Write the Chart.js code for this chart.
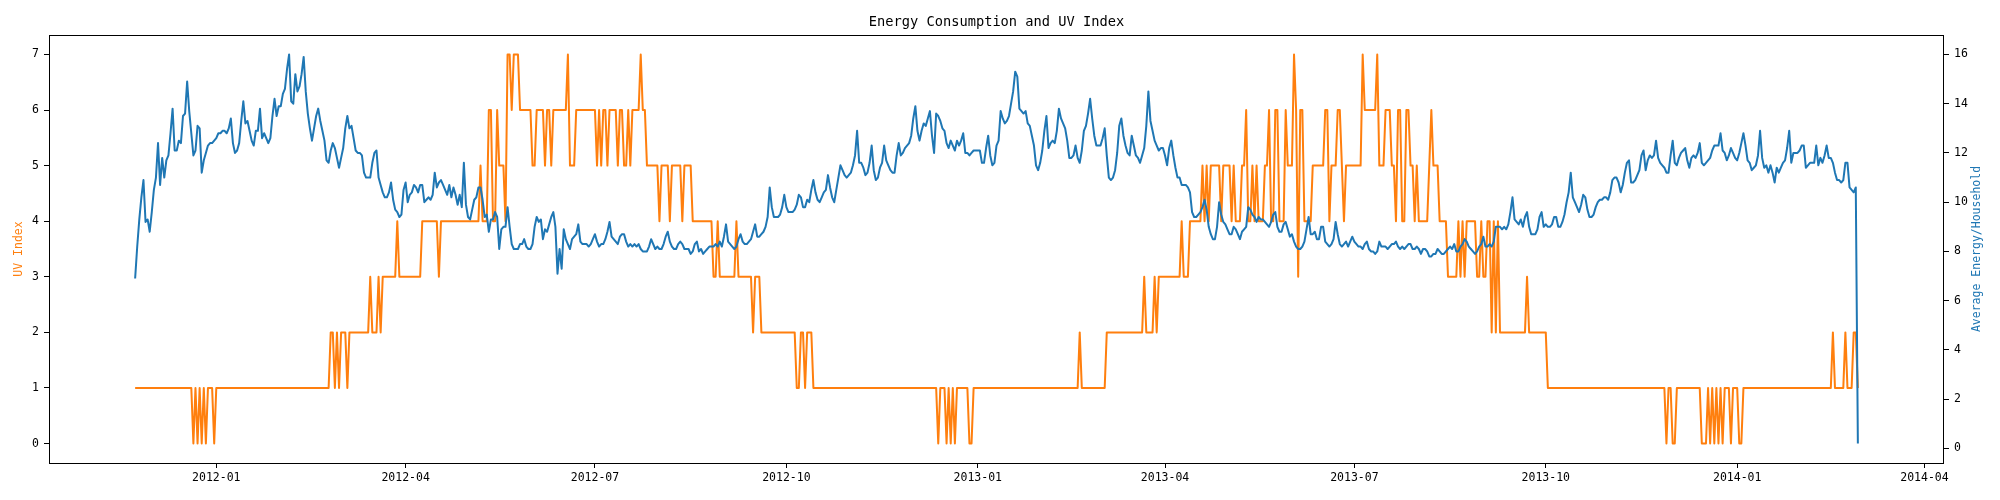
<!DOCTYPE html>
<html>
<head>
<meta charset="utf-8">
<title>Energy Consumption and UV Index</title>
<script src="https://cdn.jsdelivr.net/npm/chart.js@4.4.1/dist/chart.umd.min.js"></script>
<style>
  html, body { margin: 0; padding: 0; background: #fff; }
  #wrap { width: 2000px; height: 500px; }
</style>
</head>
<body>
<div id="wrap"><canvas id="chart" width="2000" height="500"></canvas></div>
<script>
// First day of the daily series (one value per day after that)
const startDate = '2011-11-23';

// Quarterly date ticks on the x axis
const tickLabels = ['2012-01', '2012-04', '2012-07', '2012-10', '2013-01', '2013-04', '2013-07', '2013-10', '2014-01', '2014-04'];
const uvTicks = [0, 1, 2, 3, 4, 5, 6, 7];
const energyTicks = [0, 2, 4, 6, 8, 10, 12, 14, 16];

// Daily UV index (left axis)
const uvIndex = [
  1,1,1,1,1,1,1,1,1,1, 1,1,1,1,1,1,1,1,1,1,
  1,1,1,1,1,1,1,1,0,1, 0,1,0,1,0,1,1,1,0,1,
  1,1,1,1,1,1,1,1,1,1, 1,1,1,1,1,1,1,1,1,1,
  1,1,1,1,1,1,1,1,1,1, 1,1,1,1,1,1,1,1,1,1,
  1,1,1,1,1,1,1,1,1,1, 1,1,1,1,2,2,1,2,1,2,
  2,2,1,2,2,2,2,2,2,2, 2,2,2,3,2,2,2,3,2,3,
  3,3,3,3,3,3,4,3,3,3, 3,3,3,3,3,3,3,3,4,4,
  4,4,4,4,4,4,3,4,4,4, 4,4,4,4,4,4,4,4,4,4,
  4,4,4,4,4,4,5,4,4,4, 6,6,4,4,6,5,5,5,4,7,
  7,6,7,7,7,6,6,6,6,6, 6,5,5,6,6,6,6,5,6,6,
  5,6,6,6,6,6,6,6,7,5, 5,5,6,6,6,6,6,6,6,6,
  6,6,5,6,5,6,6,5,6,6, 6,6,5,6,6,5,5,6,5,6,
  6,6,6,7,6,6,5,5,5,5, 5,5,4,5,5,5,5,4,5,5,
  5,5,5,4,5,5,5,5,4,4, 4,4,4,4,4,4,4,4,3,3,
  4,3,3,3,3,3,3,3,3,4, 3,3,3,3,3,3,3,2,3,3,
  3,2,2,2,2,2,2,2,2,2, 2,2,2,2,2,2,2,2,1,1,
  2,2,1,2,2,2,1,1,1,1, 1,1,1,1,1,1,1,1,1,1,
  1,1,1,1,1,1,1,1,1,1, 1,1,1,1,1,1,1,1,1,1,
  1,1,1,1,1,1,1,1,1,1, 1,1,1,1,1,1,1,1,1,1,
  1,1,1,1,1,1,0,1,1,1, 0,1,0,1,0,1,1,1,1,1,
  1,0,0,1,1,1,1,1,1,1, 1,1,1,1,1,1,1,1,1,1,
  1,1,1,1,1,1,1,1,1,1, 1,1,1,1,1,1,1,1,1,1,
  1,1,1,1,1,1,1,1,1,1, 1,1,1,1,2,1,1,1,1,1,
  1,1,1,1,1,1,1,2,2,2, 2,2,2,2,2,2,2,2,2,2,
  2,2,2,2,2,3,2,2,2,2, 3,2,3,3,3,3,3,3,3,3,
  3,3,3,4,3,3,3,4,4,4, 4,4,4,5,4,5,4,5,5,5,
  5,5,4,5,5,5,5,4,5,4, 4,4,5,5,6,4,4,5,4,5,
  4,4,4,5,5,6,4,4,6,6, 4,4,4,6,5,5,5,7,6,3,
  6,6,4,4,4,4,5,5,5,5, 5,5,6,6,4,5,5,5,6,6,
  5,4,5,5,5,5,5,5,5,5, 7,6,6,6,6,6,6,7,5,5,
  5,6,6,6,5,5,4,6,6,4, 4,6,6,5,5,4,5,4,4,4,
  4,4,5,6,5,5,5,4,4,4, 4,3,3,3,3,3,4,3,4,3,
  4,4,4,4,4,3,3,4,3,3, 4,4,2,4,2,4,2,2,2,2,
  2,2,2,2,2,2,2,2,2,3, 2,2,2,2,2,2,2,2,2,1,
  1,1,1,1,1,1,1,1,1,1, 1,1,1,1,1,1,1,1,1,1,
  1,1,1,1,1,1,1,1,1,1, 1,1,1,1,1,1,1,1,1,1,
  1,1,1,1,1,1,1,1,1,1, 1,1,1,1,1,1,0,1,1,0,
  0,1,1,1,1,1,1,1,1,1, 1,1,1,0,0,0,1,0,1,0,
  1,0,1,0,1,1,1,0,1,1, 1,0,0,1,1,1,1,1,1,1,
  1,1,1,1,1,1,1,1,1,1, 1,1,1,1,1,1,1,1,1,1,
  1,1,1,1,1,1,1,1,1,1, 1,1,1,1,1,1,2,1,1,1,
  1,1,2,1,1,1,2,2,1
];

// Daily average energy per household (right axis)
const avgEnergy = [
  6.9, 8.2, 9.3, 10.2, 10.9, 9.2, 9.3, 8.8, 9.6, 10.5, 11.0, 12.4, 10.7, 11.8, 11.0, 11.7, 11.9, 12.8, 13.8, 12.1,
  12.1, 12.5, 12.4, 13.5, 13.6, 14.9, 13.7, 12.8, 11.9, 12.1, 13.1, 13.0, 11.2, 11.7, 12.0, 12.3, 12.4, 12.4, 12.5, 12.6,
  12.8, 12.8, 12.9, 12.9, 12.8, 13.0, 13.4, 12.4, 12.0, 12.1, 12.4, 13.3, 14.1, 13.2, 13.3, 12.9, 12.5, 12.3, 12.9, 12.9,
  13.8, 12.6, 12.8, 12.6, 12.4, 12.6, 13.5, 14.2, 13.5, 13.9, 13.9, 14.4, 14.6, 15.4, 16.0, 14.1, 14.0, 15.2, 14.5, 14.7,
  15.2, 15.9, 14.5, 13.6, 13.0, 12.5, 13.0, 13.5, 13.8, 13.3, 12.9, 12.5, 11.7, 11.6, 12.1, 12.4, 12.2, 11.8, 11.4, 11.8,
  12.2, 13.0, 13.5, 13.0, 13.1, 12.6, 12.1, 12.0, 12.0, 11.9, 11.2, 11.0, 11.0, 11.0, 11.6, 12.0, 12.1, 11.0, 10.7, 10.4,
  10.2, 10.2, 10.4, 10.8, 10.1, 9.7, 9.6, 9.4, 9.5, 10.5, 10.8, 10.0, 10.3, 10.4, 10.7, 10.6, 10.4, 10.7, 10.7, 10.0,
  10.1, 10.2, 10.1, 10.3, 11.2, 10.6, 10.8, 10.9, 10.7, 10.5, 10.3, 10.7, 10.2, 10.6, 10.3, 9.9, 10.3, 9.8, 11.6, 9.9,
  9.4, 9.3, 9.7, 10.1, 10.2, 10.6, 10.6, 10.1, 9.4, 9.5, 8.8, 9.3, 9.3, 9.6, 9.4, 8.1, 8.9, 9.0, 9.0, 9.8,
  9.0, 8.3, 8.1, 8.1, 8.1, 8.3, 8.3, 8.5, 8.2, 8.1, 8.1, 8.3, 9.0, 9.4, 9.2, 9.3, 8.5, 8.9, 8.8, 9.1,
  9.4, 9.6, 9.0, 7.1, 8.1, 7.3, 8.9, 8.5, 8.3, 8.1, 8.5, 8.6, 8.7, 9.1, 8.4, 8.3, 8.3, 8.3, 8.2, 8.3,
  8.5, 8.7, 8.4, 8.2, 8.3, 8.3, 8.5, 8.8, 9.2, 8.6, 8.5, 8.4, 8.3, 8.6, 8.7, 8.7, 8.4, 8.2, 8.3, 8.2,
  8.3, 8.2, 8.3, 8.1, 8.0, 8.0, 8.0, 8.2, 8.5, 8.3, 8.1, 8.2, 8.1, 8.1, 8.3, 8.6, 8.8, 8.4, 8.2, 8.1,
  8.1, 8.3, 8.4, 8.3, 8.1, 8.1, 8.1, 7.9, 8.0, 8.3, 8.4, 8.0, 8.1, 7.9, 8.0, 8.1, 8.2, 8.2, 8.2, 8.3,
  8.2, 8.4, 8.2, 8.6, 9.1, 8.4, 8.3, 8.2, 8.1, 8.2, 8.5, 8.7, 8.4, 8.3, 8.3, 8.4, 8.5, 8.8, 9.1, 8.6,
  8.6, 8.7, 8.8, 9.0, 9.4, 10.6, 9.8, 9.4, 9.4, 9.4, 9.5, 9.8, 10.3, 9.8, 9.6, 9.6, 9.6, 9.7, 9.9, 10.3,
  10.2, 9.8, 9.8, 10.1, 10.0, 10.5, 10.9, 10.4, 10.1, 10.0, 10.2, 10.4, 10.5, 11.1, 10.6, 10.2, 10.0, 10.5, 11.0, 11.5,
  11.3, 11.1, 11.0, 11.1, 11.2, 11.5, 11.9, 12.9, 11.6, 11.6, 11.4, 11.1, 11.2, 11.6, 12.3, 11.3, 10.9, 11.0, 11.4, 11.6,
  12.3, 11.7, 11.5, 11.3, 11.2, 11.2, 11.9, 12.4, 11.9, 12.0, 12.2, 12.3, 12.4, 12.7, 13.4, 13.9, 12.9, 12.5, 12.9, 13.2,
  13.1, 13.4, 13.7, 12.7, 12.0, 13.6, 13.5, 13.3, 13.0, 12.9, 12.4, 12.2, 12.5, 12.3, 12.1, 12.5, 12.3, 12.5, 12.8, 12.0,
  12.0, 11.9, 12.0, 12.1, 12.1, 12.1, 12.1, 11.6, 11.6, 12.2, 12.7, 11.9, 11.5, 11.6, 12.3, 12.5, 13.7, 13.4, 13.2, 13.3,
  13.5, 14.0, 14.5, 15.3, 15.1, 13.8, 13.7, 13.6, 13.7, 13.2, 13.1, 12.7, 12.3, 11.5, 11.3, 11.6, 12.1, 12.9, 13.5, 12.2,
  12.4, 12.5, 12.4, 12.9, 13.8, 13.4, 13.2, 13.0, 12.5, 11.8, 11.8, 11.9, 12.3, 11.8, 11.6, 12.1, 12.9, 13.1, 13.6, 14.2,
  13.4, 12.7, 12.3, 12.3, 12.3, 12.6, 13.0, 11.9, 11.0, 10.9, 11.0, 11.3, 12.0, 13.1, 13.4, 12.7, 12.3, 12.0, 11.9, 12.7,
  12.3, 11.9, 11.8, 11.6, 11.9, 12.2, 13.1, 14.5, 13.3, 12.9, 12.5, 12.3, 12.1, 12.2, 12.2, 11.9, 11.5, 12.2, 12.5, 11.9,
  11.4, 11.0, 11.0, 10.7, 10.7, 10.7, 10.6, 10.4, 9.6, 9.4, 9.4, 9.5, 9.6, 9.8, 10.1, 9.7, 9.0, 8.7, 8.5, 8.5,
  9.0, 10.0, 9.5, 9.2, 9.1, 8.9, 8.7, 8.7, 9.0, 8.9, 8.7, 8.5, 8.8, 8.9, 9.0, 9.8, 9.7, 9.5, 9.4, 9.2,
  9.4, 9.3, 9.3, 9.2, 9.1, 9.0, 9.2, 9.5, 9.6, 9.0, 8.8, 8.8, 9.1, 9.2, 8.9, 8.6, 8.7, 8.4, 8.2, 8.1,
  8.1, 8.2, 8.4, 8.9, 9.4, 8.7, 8.7, 8.8, 8.5, 8.5, 9.0, 9.0, 8.4, 8.3, 8.2, 8.3, 8.5, 9.2, 8.7, 8.3,
  8.2, 8.3, 8.4, 8.2, 8.4, 8.6, 8.4, 8.3, 8.2, 8.2, 8.1, 8.3, 8.4, 8.1, 8.0, 8.0, 7.9, 8.0, 8.4, 8.2,
  8.2, 8.2, 8.1, 8.2, 8.3, 8.3, 8.4, 8.2, 8.1, 8.2, 8.1, 8.2, 8.3, 8.3, 8.1, 8.1, 8.2, 8.1, 7.9, 8.1,
  8.1, 8.0, 7.8, 7.8, 7.9, 7.9, 8.1, 8.0, 7.9, 7.9, 8.0, 8.1, 8.2, 8.1, 8.3, 8.0, 8.0, 8.2, 8.3, 8.5,
  8.4, 8.2, 8.1, 8.0, 7.9, 8.0, 8.2, 8.3, 8.6, 8.2, 8.2, 8.3, 8.2, 8.4, 9.0, 9.0, 9.0, 8.9, 9.0, 8.9,
  9.1, 9.6, 10.2, 9.3, 9.2, 9.1, 9.3, 9.0, 9.4, 9.6, 9.0, 8.7, 8.7, 8.7, 8.9, 9.4, 9.6, 9.0, 9.1, 9.0,
  9.0, 9.1, 9.4, 9.4, 9.0, 9.0, 9.2, 9.5, 10.0, 10.4, 11.2, 10.2, 10.0, 9.8, 9.6, 9.9, 10.3, 10.2, 9.7, 9.4,
  9.4, 9.5, 9.8, 10.0, 10.1, 10.1, 10.2, 10.2, 10.1, 10.4, 10.9, 11.0, 11.0, 10.8, 10.4, 10.7, 11.2, 11.6, 11.7, 10.8,
  10.8, 10.9, 11.1, 11.3, 11.9, 12.1, 11.3, 11.7, 11.9, 11.8, 11.9, 12.5, 11.8, 11.6, 11.5, 11.4, 11.2, 11.2, 11.9, 12.5,
  11.6, 11.5, 11.8, 12.0, 12.1, 12.2, 11.7, 11.4, 11.8, 11.9, 11.8, 12.0, 12.4, 11.6, 11.5, 11.6, 11.7, 11.8, 12.1, 12.3,
  12.3, 12.3, 12.8, 12.1, 12.0, 11.7, 11.9, 12.2, 12.0, 11.8, 11.7, 12.0, 12.4, 12.8, 12.3, 11.7, 11.6, 11.3, 11.4, 11.5,
  11.9, 12.9, 11.8, 11.4, 11.5, 11.2, 11.5, 11.2, 10.8, 11.4, 11.2, 11.4, 11.6, 11.7, 12.2, 12.9, 11.6, 12.0, 12.0, 12.0,
  12.1, 12.3, 12.3, 11.4, 11.5, 11.6, 11.6, 11.6, 12.3, 11.5, 11.8, 11.6, 11.9, 12.3, 11.8, 11.8, 11.6, 11.2, 10.9, 10.9,
  10.8, 10.9, 11.6, 11.6, 10.6, 10.5, 10.4, 10.6, 0.2
];

const DAY = 24 * 60 * 60 * 1000;
const orange = '#ff7f0e';
const blue = '#1f77b4';
const monoFont = 'DejaVu Sans Mono';

// Build {x, y} points, x as a UTC timestamp for each day
const t0 = Date.parse(startDate);
const uvPoints = uvIndex.map((v, i) => ({ x: t0 + i * DAY, y: v }));
const energyPoints = avgEnergy.map((v, i) => ({ x: t0 + i * DAY, y: v }));
const tickValues = tickLabels.map(s => Date.UTC(+s.slice(0, 4), +s.slice(5, 7) - 1, 1));

// Matplotlib style 5% margins around the data
const span = (uvIndex.length - 1) * DAY;
const xMin = t0 - 0.05 * span;
const xMax = t0 + span + 0.05 * span;
const eLo = Math.min(...avgEnergy), eHi = Math.max(...avgEnergy);
const ePad = 0.05 * (eHi - eLo);

// Draws the box, the title and both axis titles
const frameAndLabels = {
    id: 'frameAndLabels',
    afterDraw(chart) {
        const { ctx, chartArea: a } = chart;
        ctx.save();
        ctx.strokeStyle = '#000';
        ctx.lineWidth = 1;
        ctx.strokeRect(a.left + 0.5, a.top + 0.5, a.right - a.left - 1, a.bottom - a.top);

        ctx.fillStyle = '#000';
        ctx.font = '13.7px "' + monoFont + '"';
        ctx.textAlign = 'center';
        ctx.textBaseline = 'middle';
        ctx.fillText('Energy Consumption and UV Index', (a.left + a.right) / 2, 22);

        const midY = (a.top + a.bottom) / 2;
        ctx.font = '11.5px "' + monoFont + '"';
        ctx.save();
        ctx.translate(19, midY);
        ctx.rotate(-Math.PI / 2);
        ctx.fillStyle = orange;
        ctx.fillText('UV Index', 0, 0);
        ctx.restore();

        ctx.save();
        ctx.translate(1977, midY);
        ctx.rotate(-Math.PI / 2);
        ctx.fillStyle = blue;
        ctx.fillText('Average Energy/Household', 0, 0);
        ctx.restore();
        ctx.restore();
    }
};

const tickFont = { family: monoFont, size: 11.5 };
const gridOpts = { drawOnChartArea: false, drawTicks: true, tickLength: 5, tickWidth: 1, tickColor: '#000' };

new Chart(document.getElementById('chart').getContext('2d'), {
    type: 'line',
    data: {
        datasets: [
            {
                label: 'Average Energy/Household',
                data: energyPoints,
                yAxisID: 'yEnergy',
                borderColor: blue,
                borderWidth: 2,
                borderJoinStyle: 'round',
                pointRadius: 0,
                tension: 0,
                order: 0
            },
            {
                label: 'UV Index',
                data: uvPoints,
                yAxisID: 'yUv',
                borderColor: orange,
                borderWidth: 2,
                borderJoinStyle: 'round',
                pointRadius: 0,
                tension: 0,
                order: 1
            }
        ]
    },
    options: {
        responsive: false,
        animation: false,
        devicePixelRatio: 1,
        layout: { padding: { top: 35, left: 0, right: 0, bottom: 0 } },
        plugins: {
            legend: { display: false },
            title: { display: false },
            tooltip: { enabled: false }
        },
        scales: {
            x: {
                type: 'linear',
                min: xMin,
                max: xMax,
                grid: gridOpts,
                border: { display: false },
                ticks: {
                    font: tickFont,
                    color: '#000',
                    padding: 3,
                    autoSkip: false,
                    maxRotation: 0,
                    callback: (value, index) => tickLabels[index]
                },
                afterBuildTicks: scale => { scale.ticks = tickValues.map(v => ({ value: v })); },
                afterFit: scale => { scale.height = 37; }
            },
            yUv: {
                type: 'linear',
                position: 'left',
                min: -0.35,
                max: 7.35,
                grid: gridOpts,
                border: { display: false },
                ticks: { font: tickFont, color: '#000', padding: 5 },
                afterBuildTicks: scale => { scale.ticks = uvTicks.map(v => ({ value: v })); },
                afterFit: scale => { scale.width = 49; }
            },
            yEnergy: {
                type: 'linear',
                position: 'right',
                min: eLo - ePad,
                max: eHi + ePad,
                grid: gridOpts,
                border: { display: false },
                ticks: { font: tickFont, color: '#000', padding: 5 },
                afterBuildTicks: scale => { scale.ticks = energyTicks.map(v => ({ value: v })); },
                afterFit: scale => { scale.width = 56; }
            }
        }
    },
    plugins: [frameAndLabels]
});
</script>
</body>
</html>
